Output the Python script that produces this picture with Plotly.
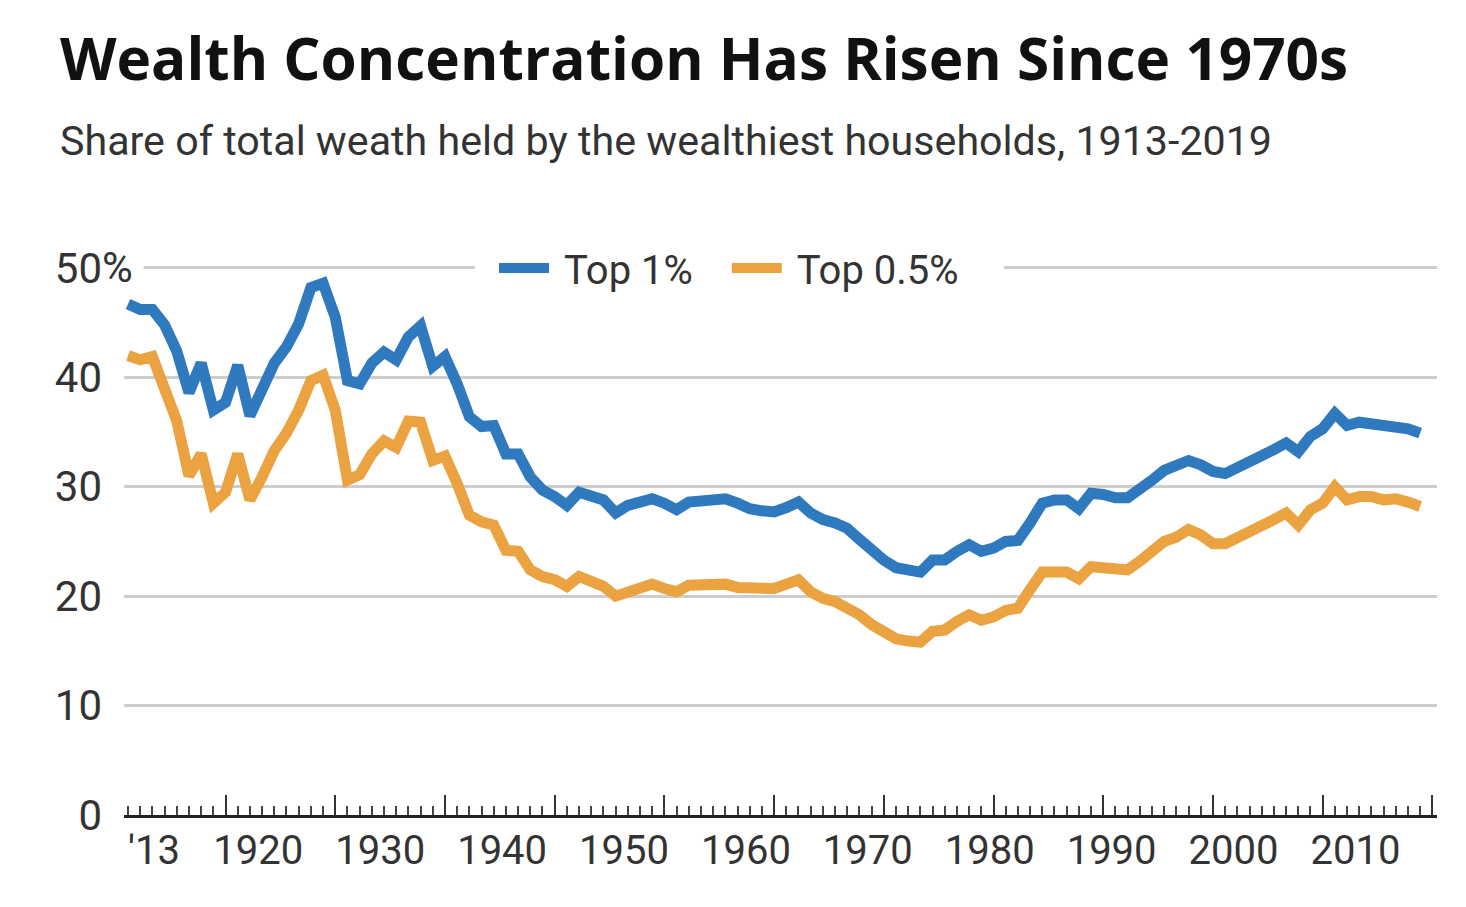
import plotly.graph_objects as go

years = list(range(1913, 2020))

top1 = [
    46.7, 46.2, 46.2, 44.8, 42.4, 38.6, 41.3, 37.0, 37.7, 41.1,   # 1913-1922
    36.5, 38.8, 41.3, 42.8, 44.9, 48.2, 48.6, 45.5, 39.7, 39.4,   # 1923-1932
    41.3, 42.3, 41.6, 43.7, 44.7, 41.0, 41.9, 39.4, 36.4, 35.5,   # 1933-1942
    35.6, 33.0, 33.0, 30.9, 29.7, 29.1, 28.3, 29.5, 29.2, 28.8,   # 1943-1952
    27.6, 28.3, 28.6, 28.9, 28.5, 27.9, 28.6, 28.7, 28.8, 28.9,   # 1953-1962
    28.5, 28.0, 27.8, 27.7, 28.1, 28.6, 27.6, 27.0, 26.7, 26.2,   # 1963-1972
    25.2, 24.2, 23.3, 22.6, 22.3, 22.2, 23.3, 23.3, 24.1, 24.7,   # 1973-1982
    24.1, 24.4, 25.0, 25.1, 26.7, 28.5, 28.8, 28.8, 28.0, 29.4,   # 1983-1992
    29.3, 29.0, 29.0, 29.7, 30.6, 31.5, 32.0, 32.4, 32.0, 31.4,   # 1993-2002
    31.2, 31.7, 32.3, 32.8, 33.4, 34.0, 33.2, 34.6, 35.3, 36.7,   # 2003-2012
    35.6, 35.9, 35.8, 35.5, 35.6, 35.3, 34.9,                     # 2013-2019
]

top05 = [
    42.0, 41.6, 41.9, 39.0, 36.0, 31.0, 33.0, 28.5, 29.5, 33.0,   # 1913-1922
    28.8, 30.9, 33.3, 34.9, 37.0, 39.7, 40.2, 37.0, 30.6, 31.1,   # 1923-1932
    33.0, 34.2, 33.6, 36.0, 35.9, 32.4, 32.8, 30.3, 27.4, 26.8,   # 1933-1942
    26.5, 24.2, 24.1, 22.4, 21.8, 21.5, 20.9, 21.8, 21.3, 20.9,   # 1943-1952
    20.0, 20.4, 20.6, 21.1, 20.7, 20.4, 21.0, 21.0, 21.1, 21.1,   # 1953-1962
    20.8, 20.7, 20.6, 20.7, 21.1, 21.5, 20.4, 19.8, 19.5, 19.0,   # 1963-1972
    18.3, 17.4, 16.7, 16.1, 15.9, 15.8, 16.8, 16.9, 17.7, 18.3,   # 1973-1982
    17.8, 18.1, 18.7, 18.9, 20.6, 22.2, 22.2, 22.2, 21.6, 22.7,   # 1983-1992
    22.6, 22.5, 22.4, 23.2, 24.1, 25.0, 25.4, 26.1, 25.6, 24.8,   # 1993-2002
    24.8, 25.3, 25.9, 26.4, 27.0, 27.6, 26.5, 27.9, 28.5, 30.0,   # 2003-2012
    28.8, 29.1, 29.1, 28.8, 28.9, 28.6, 28.2,                     # 2013-2019
]

x_label_years = [1913, 1920, 1930, 1940, 1950, 1960, 1970, 1980, 1990, 2000, 2010]
x_label_text = ["'13", "1920", "1930", "1940", "1950", "1960", "1970", "1980", "1990", "2000", "2010"]
y_tick_vals = [0, 10, 20, 30, 40, 50]
y_tick_text = ["0", "10", "20", "30", "40", "50"]

BLUE = "#2f79bf"
ORANGE = "#eba240"
NARROW = "Roboto, DejaVu Sans Condensed, sans-serif"
XRANGE = [1912.67, 2020.38]
NB = "\u00a0"

# the page body adds an 8px offset; figure is sized so it fits the window
W, H = 1458, 899
L, T, R, B = 116, 249, 29, 92
PW, PH = W - L - R, H - T - B

fig = go.Figure()
fig.add_trace(go.Scatter(x=years, y=top1, mode="lines", name=NB + "Top 1%" + NB,
                         line=dict(color=BLUE, width=11)))
fig.add_trace(go.Scatter(x=years, y=top05, mode="lines", name=NB + "Top 0.5%" + NB * 4,
                         xaxis="x2", line=dict(color=ORANGE, width=11)))

fig.update_layout(
    width=W, height=H,
    margin=dict(l=L, r=R, t=T, b=B),
    paper_bgcolor="white", plot_bgcolor="white",
    title=dict(text="<b>Wealth Concentration Has Risen Since 1970s</b>",
               x=52 / W, xanchor="left", xref="container",
               y=1 - 52 / H, yanchor="middle", yref="container",
               font=dict(family="Open Sans, Lato, sans-serif", size=58.5, color="#111")),
    xaxis=dict(range=XRANGE, showgrid=False, zeroline=False,
               showline=True, linecolor="#222", linewidth=3,
               ticks="inside", tick0=1921, dtick=9, ticklen=20, tickwidth=2,
               tickcolor="#333", showticklabels=False,
               minor=dict(ticks="inside", tick0=1913, dtick=1, ticklen=9,
                          tickwidth=2, tickcolor="#444", showgrid=False)),
    xaxis2=dict(range=XRANGE, overlaying="x", matches="x", anchor="y", side="bottom",
                showgrid=False, zeroline=False, showline=False, ticks="",
                tickmode="array", tickvals=x_label_years, ticktext=x_label_text,
                tickangle=0,
                ticklabelposition="outside right", ticklabelstandoff=8,
                tickfont=dict(family=NARROW, size=40, color="#333")),
    yaxis=dict(range=[0, 51], showgrid=True, gridcolor="#cdcdcd", gridwidth=2.5,
               zeroline=False, showline=False, ticks="",
               tickmode="array", tickvals=y_tick_vals, ticktext=y_tick_text,
               ticklabelstandoff=21,
               tickfont=dict(family=NARROW, size=42, color="#333")),
    legend=dict(orientation="h", x=(467 - L) / PW, xanchor="left",
                y=(807 - 260) / PH, yanchor="middle", indentation=19,
                bgcolor="white", itemwidth=50,
                font=dict(family=NARROW, size=40, color="#333")),
    showlegend=True,
)

fig.add_annotation(text="Share of total weath held by the wealthiest households, 1913-2019",
                   xref="paper", yref="paper", x=(50 - L) / PW, y=(807 - 133) / PH,
                   xanchor="left", yanchor="middle", showarrow=False,
                   font=dict(family=NARROW, size=41.2, color="#333"))

fig.add_annotation(text="%" + NB, xref="paper", yref="y", x=0, y=50, xshift=-23,
                   xanchor="left", yanchor="middle", showarrow=False,
                   bgcolor="white", borderpad=0,
                   font=dict(family=NARROW, size=42, color="#333"))

fig.write_html("out.html")
